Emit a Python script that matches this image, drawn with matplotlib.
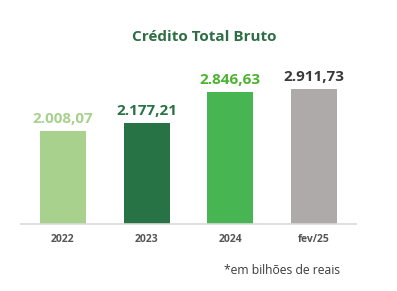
import matplotlib
matplotlib.use("Agg")
import matplotlib.pyplot as plt

categories = ["2022", "2023", "2024", "fev/25"]
values = [2008.07, 2177.21, 2846.63, 2911.73]
value_labels = ["2.008,07", "2.177,21", "2.846,63", "2.911,73"]
bar_colors = ["#a9d18e", "#277346", "#48b553", "#adaaa9"]
label_colors = ["#a9d18e", "#277346", "#4cb331", "#3a3a3a"]

plt.rcParams["font.family"] = ["Open Sans", "DejaVu Sans"]

W, H = 397, 291
fig = plt.figure(figsize=(W / 100, H / 100), dpi=100)
# axes spans x 21..356 px, y 60..224 px (from top)
ax = fig.add_axes([21 / W, (H - 224) / H, (356 - 21) / W, (224 - 60) / H])

x = range(len(categories))
ax.bar(x, values, width=0.55, color=bar_colors, zorder=2)
ax.set_xlim(-0.5, 3.5)
ax.set_ylim(0, 164 / 0.0465)

for xi, v, lab, c in zip(x, values, value_labels, label_colors):
    ax.annotate(lab, (xi, v), xytext=(0, 3.5), textcoords="offset points",
                ha="center", va="bottom", fontsize=11, fontweight="bold", color=c)

for s in ["top", "right", "left"]:
    ax.spines[s].set_visible(False)
ax.spines["bottom"].set_color("#d9d9d9")
ax.spines["bottom"].set_linewidth(1.2)
ax.set_yticks([])
ax.set_xticks(list(x))
ax.set_xticklabels(categories, fontsize=7.5, fontweight="bold", color="#555555")
ax.tick_params(axis="x", length=0, pad=7)

fig.text(204 / W, 1 - 37 / H, "Crédito Total Bruto", ha="center", va="center",
         fontsize=11, fontweight="bold", color="#2e6e45")
fig.text(282 / W, 1 - 270 / H, "*em bilhões de reais", ha="center", va="center",
         fontsize=8.7, color="#3a3a3a")

fig.savefig("out.png", dpi=100)
